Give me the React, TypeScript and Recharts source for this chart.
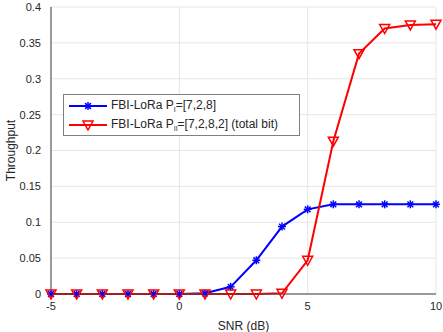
import React from "react";
import {
  LineChart,
  Line,
  XAxis,
  YAxis,
  CartesianGrid,
} from "recharts";

const snr = [-5, -4, -3, -2, -1, 0, 1, 2, 3, 4, 5, 6, 7, 8, 9, 10];
const throughputI = [0, 0, 0, 0, 0, 0, 0.001, 0.01, 0.047, 0.094, 0.118, 0.125, 0.125, 0.125, 0.125, 0.125];
const throughputII = [0, 0, 0, 0, 0, 0, 0, 0, 0, 0.001, 0.047, 0.213, 0.335, 0.37, 0.375, 0.376];
const xTicks = [-5, 0, 5, 10];
const yTicks = [0, 0.05, 0.1, 0.15, 0.2, 0.25, 0.3, 0.35, 0.4];

const data = snr.map((s, i) => ({ snr: s, a: throughputI[i], b: throughputII[i] }));

const FONT = "'Liberation Sans', Arial, Helvetica, sans-serif";
const AXIS = "#404040";
const TEXT = "#262626";

function Asterisk(props: any) {
  const { cx, cy } = props;
  if (cx == null || cy == null) return null;
  const r = 4;
  const d = r * 0.72;
  return (
    <g stroke="#0000ff" strokeWidth={1.5}>
      <line x1={cx - r} y1={cy} x2={cx + r} y2={cy} />
      <line x1={cx} y1={cy - r} x2={cx} y2={cy + r} />
      <line x1={cx - d} y1={cy - d} x2={cx + d} y2={cy + d} />
      <line x1={cx - d} y1={cy + d} x2={cx + d} y2={cy - d} />
    </g>
  );
}

function TriDown(props: any) {
  const { cx, cy } = props;
  if (cx == null || cy == null) return null;
  const w = 5;
  return (
    <path
      d={`M${cx - w},${cy - 4} L${cx + w},${cy - 4} L${cx},${cy + 5} Z`}
      fill="none"
      stroke="#ff0000"
      strokeWidth={1.5}
    />
  );
}

function LegendBox() {
  const row = (color: string, marker: React.ReactNode, label: React.ReactNode) => (
    <div style={{ display: "flex", alignItems: "center", height: 19 }}>
      <svg width={42} height={12} style={{ marginRight: 1 }}>
        <line x1={1} y1={6} x2={39} y2={6} stroke={color} strokeWidth={2} />
        {marker}
      </svg>
      <span style={{ fontSize: 12, color: TEXT, whiteSpace: "nowrap" }}>{label}</span>
    </div>
  );
  return (
    <div
      style={{
        position: "absolute",
        left: 63,
        top: 94,
        boxSizing: "border-box",
        width: 237,
        height: 42,
        background: "#fff",
        border: "1px solid #808080",
        padding: "1px 4px",
        fontFamily: FONT,
      }}
    >
      {row(
        "#0000ff",
        <Asterisk cx={20} cy={6} />,
        <>
          FBI-LoRa P<sub style={{ fontSize: 7 }}>I</sub>=[7,2,8]
        </>
      )}
      {row(
        "#ff0000",
        <TriDown cx={20} cy={6} />,
        <>
          FBI-LoRa P<sub style={{ fontSize: 7 }}>II</sub>=[7,2,8,2] (total bit)
        </>
      )}
    </div>
  );
}

export default function App() {
  return (
    <div style={{ position: "absolute", left: 0, top: 0, width: 443, height: 332, background: "#fff" }}>
      <LineChart
        width={443}
        height={332}
        data={data}
        margin={{ top: 7, right: 7, left: 0, bottom: 0 }}
        style={{ fontFamily: FONT }}
      >
        <CartesianGrid stroke="#e6e6e6" strokeWidth={1} />
        <XAxis
          dataKey="snr"
          type="number"
          domain={[-5, 10]}
          ticks={xTicks}
          tickLine={false}
          axisLine={{ stroke: AXIS }}
          tick={{ fontSize: 11, fill: TEXT }}
          tickMargin={2}
          height={38}
          label={{ value: "SNR (dB)", position: "insideBottom", offset: 2, fontSize: 12, fill: TEXT }}
        />
        <XAxis xAxisId="top" dataKey="snr" type="number" domain={[-5, 10]} orientation="top" tick={false} tickLine={false} axisLine={{ stroke: AXIS }} height={0} />
        <YAxis
          type="number"
          domain={[0, 0.4]}
          ticks={yTicks}
          tickLine={false}
          axisLine={{ stroke: AXIS }}
          tick={{ fontSize: 11, fill: TEXT }}
          tickMargin={4}
          width={51}
          label={{ value: "Throughput", angle: -90, position: "insideLeft", offset: 11, fontSize: 12, fill: TEXT, style: { textAnchor: "middle" } }}
        />
        <YAxis yAxisId="right" orientation="right" domain={[0, 0.4]} tick={false} tickLine={false} axisLine={{ stroke: AXIS }} width={0} />
        <Line dataKey="a" stroke="#0000ff" strokeWidth={2} dot={<Asterisk />} isAnimationActive={false} />
        <Line dataKey="b" stroke="#ff0000" strokeWidth={2} dot={<TriDown />} isAnimationActive={false} />
      </LineChart>
      <LegendBox />
    </div>
  );
}
